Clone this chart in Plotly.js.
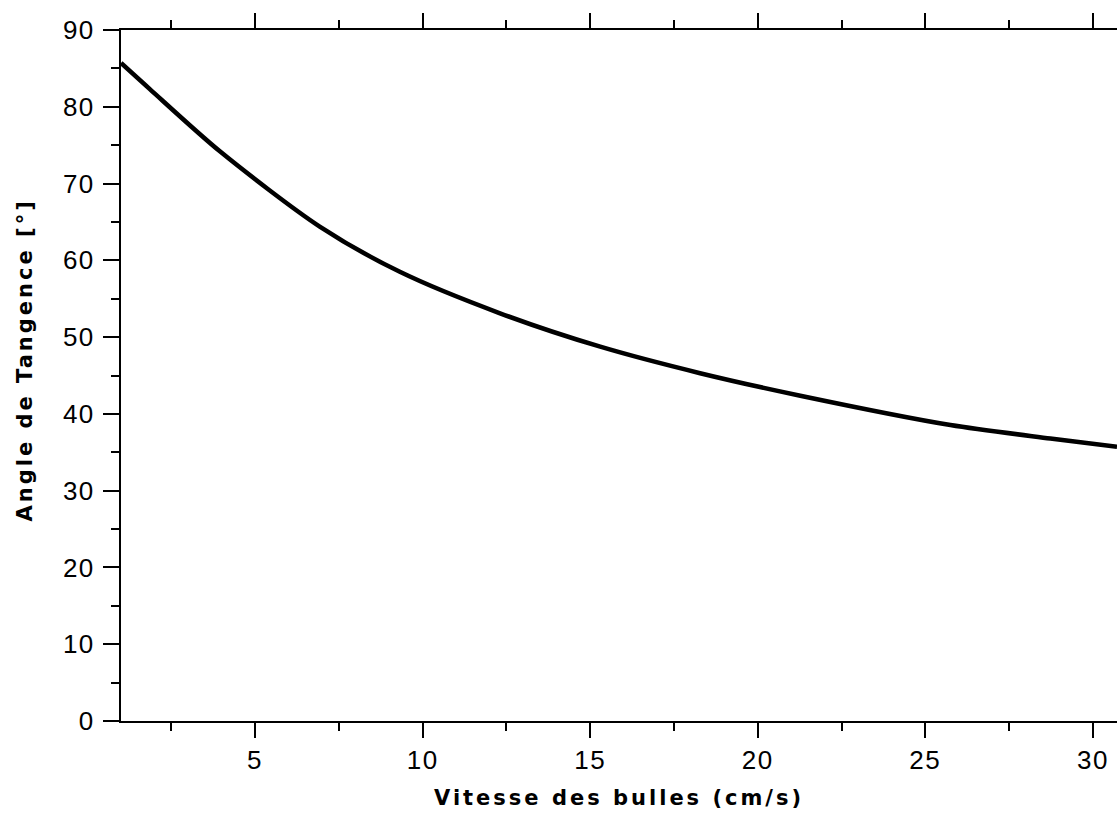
<!DOCTYPE html>
<html>
<head>
<meta charset="utf-8">
<script src="https://cdn.plot.ly/plotly-3.0.1.min.js"></script>
<style>
  html, body { margin: 0; padding: 0; background: #fff; }
  #chart { width: 1117px; height: 816px; }
  .xtick text, .ytick text { letter-spacing: 1.5px; }
  .annotation-text { letter-spacing: 3px; }
</style>
</head>
<body>
<div id="chart"></div>
<script>
// Bubble velocity (cm/s) and the corresponding tangency angle (degrees)
const vitesse = [1.0, 1.86, 3.95, 6.93, 9.32, 12.31, 15.30, 18.28, 21.27, 25.75, 28.73, 30.72];
const angle   = [85.7, 82.3, 74.2, 64.4, 58.5, 53.1, 48.75, 45.3, 42.37, 38.55, 36.8, 35.73];

const xTitle = 'Vitesse des bulles (cm/s)';
const yTitle = 'Angle de Tangence [°]';

const tickFont = { family: 'Liberation Sans', size: 26, color: '#000' };
const titleFont = { family: 'DejaVu Sans', size: 21, color: '#000', weight: 'bold' };

const trace = {
  x: vitesse,
  y: angle,
  type: 'scatter',
  mode: 'lines',
  line: { color: '#000', width: 4.5, shape: 'spline', smoothing: 0.8 },
  hoverinfo: 'x+y',
  showlegend: false
};

const layout = {
  width: 1117,
  height: 816,
  margin: { l: 121, r: 0, t: 30, b: 95 },
  paper_bgcolor: '#fff',
  plot_bgcolor: '#fff',
  xaxis: {
    range: [1, 30.72],
    tick0: 0,
    dtick: 5,
    ticks: 'outside',
    ticklen: 15,
    tickwidth: 2,
    tickcolor: '#000',
    minor: { dtick: 2.5, tick0: 0, ticks: 'outside', ticklen: 8, tickwidth: 2, tickcolor: '#000' },
    showline: true,
    linewidth: 2,
    linecolor: '#000',
    mirror: 'ticks',
    showgrid: false,
    zeroline: false,
    tickfont: tickFont
  },
  yaxis: {
    range: [0, 90],
    tick0: 0,
    dtick: 10,
    ticks: 'outside',
    ticklen: 16,
    tickwidth: 2,
    tickcolor: '#000',
    ticklabelstandoff: 3,
    minor: { dtick: 5, tick0: 0, ticks: 'outside', ticklen: 8, tickwidth: 2, tickcolor: '#000' },
    showline: true,
    linewidth: 2,
    linecolor: '#000',
    showgrid: false,
    zeroline: false,
    tickfont: tickFont
  },
  annotations: [
    {
      text: xTitle, xref: 'paper', yref: 'paper', x: 0.5, y: 0,
      xanchor: 'center', yanchor: 'top', yshift: -63, showarrow: false, font: titleFont
    },
    {
      text: yTitle, xref: 'paper', yref: 'paper', x: 0, y: 0.5,
      xanchor: 'right', yanchor: 'middle', xshift: -83, yshift: 15, textangle: -90,
      showarrow: false, font: titleFont
    }
  ]
};

Plotly.newPlot('chart', [trace], layout, { staticPlot: true, displayModeBar: false });
</script>
</body>
</html>
